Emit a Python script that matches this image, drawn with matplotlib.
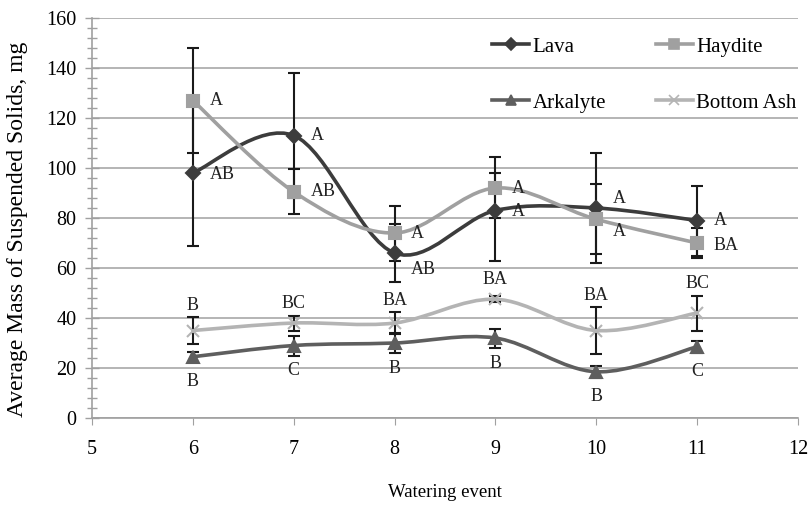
import numpy as np
import matplotlib
matplotlib.use("Agg")
import matplotlib.pyplot as plt
from matplotlib.path import Path
from matplotlib.patches import PathPatch
from matplotlib.ticker import MultipleLocator

plt.rcParams['font.family'] = ['Liberation Serif', 'DejaVu Serif']

# Watering events
events = [6, 7, 8, 9, 10, 11]

# Mean values (mg)
lava = [98, 113, 66, 83, 84, 79]
haydite = [127, 90.5, 74, 92, 79.5, 70]
arkalyte = [24.5, 29, 30, 32, 18.5, 28.5]
bottom_ash = [35, 38, 38, 47.5, 35, 42]

# Error bars (lower, upper)
lava_err_lo = [29, 25, 11.5, 20, 22, 14]
lava_err_hi = [29, 25, 11.5, 15, 22, 14]
haydite_err_lo = [21, 9, 11, 12, 14, 6]
haydite_err_hi = [21, 9, 11, 12.5, 14, 6]
arkalyte_err = [2, 4, 4, 3.8, 2.5, 2.5]
bottom_ash_err = [5.5, 3, 4.5, 1.2, 9.5, 7]

# Significance letters
lava_sig = ['AB', 'A', 'AB', 'A', 'A', 'A']
haydite_sig = ['A', 'AB', 'A', 'A', 'A', 'BA']
arkalyte_sig = ['B', 'C', 'B', 'B', 'B', 'C']
bottom_ash_sig = ['B', 'BC', 'BA', 'BA', 'BA', 'BC']

# label offsets in points
lava_off = [(12, -1), (12, 0), (12, -12), (12, -1), (12, 7), (12, 0)]
haydite_off = [(12, 0), (12, 0), (12, 0), (12, 0), (12, -9), (12, -2)]
ash_dy = [8, 9, 8, 12, 8, 9]


def smooth_path(x, y):
    # smoothed line like Excel: Catmull-Rom as cubic Bezier pieces
    x = np.asarray(x, float)
    y = np.asarray(y, float)
    n = len(x)
    verts = [(x[0], y[0])]
    codes = [Path.MOVETO]
    for i in range(n - 1):
        p0 = (x[max(i - 1, 0)], y[max(i - 1, 0)])
        p1 = (x[i], y[i])
        p2 = (x[i + 1], y[i + 1])
        p3 = (x[min(i + 2, n - 1)], y[min(i + 2, n - 1)])
        c1 = (p1[0] + (p2[0] - p0[0]) / 6, p1[1] + (p2[1] - p0[1]) / 6)
        c2 = (p2[0] - (p3[0] - p1[0]) / 6, p2[1] - (p3[1] - p1[1]) / 6)
        verts += [c1, c2, p2]
        codes += [Path.CURVE4] * 3
    return Path(verts, codes)


fig = plt.figure(figsize=(8.09, 5.07), dpi=100)
ax = fig.add_axes([0.1137, 0.1755, 0.8726, 0.789])

series = [
    ('Lava', lava, lava_err_lo, lava_err_hi, '#3c3c3c', 'D', 7),
    ('Haydite', haydite, haydite_err_lo, haydite_err_hi, '#a0a0a0', 's', 9),
    ('Arkalyte', arkalyte, arkalyte_err, arkalyte_err, '#5e5e5e', '^', 8.5),
    ('Bottom Ash', bottom_ash, bottom_ash_err, bottom_ash_err, '#b4b4b4', 'x', 9),
]

handles = {}
for name, vals, elo, ehi, col, mk, ms in series:
    ax.add_patch(PathPatch(smooth_path(events, vals), facecolor='none',
                           edgecolor=col, lw=2.6, zorder=2))
    ax.errorbar(events, vals, yerr=[elo, ehi], fmt='none', ecolor='#1a1a1a',
                elinewidth=1.5, capsize=4, capthick=1.5, zorder=3)
    ax.plot(events, vals, ls='none', marker=mk, color=col, ms=ms,
            mew=1.5, zorder=4)
    h, = ax.plot([], [], color=col, lw=2.6, marker=mk, ms=ms * 0.85, mew=1.2)
    handles[name] = h

txt = dict(fontsize=13, color='#222222')
for xv, yv, s, off in zip(events, lava, lava_sig, lava_off):
    ax.annotate(s, (xv, yv), xytext=off, textcoords='offset points',
                ha='left', va='center', **txt)
for xv, yv, s, off in zip(events, haydite, haydite_sig, haydite_off):
    ax.annotate(s, (xv, yv), xytext=off, textcoords='offset points',
                ha='left', va='center', **txt)
for xv, yv, e, s, dy in zip(events, bottom_ash, bottom_ash_err, bottom_ash_sig, ash_dy):
    ax.annotate(s, (xv, yv + e), xytext=(0, dy), textcoords='offset points',
                ha='center', va='center', **txt)
for xv, yv, s in zip(events, arkalyte, arkalyte_sig):
    ax.annotate(s, (xv, yv), xytext=(0, -18), textcoords='offset points',
                ha='center', va='center', **txt)

ax.set_xlim(5, 12)
ax.set_ylim(0, 160)
ax.xaxis.set_major_locator(MultipleLocator(1))
ax.yaxis.set_major_locator(MultipleLocator(20))
ax.yaxis.set_minor_locator(MultipleLocator(4))
ax.grid(axis='y', color='#a8a8a8', lw=1.2)
ax.set_axisbelow(True)
for sp in ['top', 'right']:
    ax.spines[sp].set_visible(False)
for sp in ['left', 'bottom']:
    ax.spines[sp].set_color('#a0a0a0')
    ax.spines[sp].set_linewidth(1.2)
ax.tick_params(axis='y', which='both', direction='inout', color='#a0a0a0',
               labelsize=14.5, length=10, width=1, pad=6)
ax.tick_params(axis='y', which='minor', length=7)
ax.tick_params(axis='x', direction='out', color='#a0a0a0', labelsize=14.5,
               length=5, pad=11)

ax.set_xlabel('Watering event', fontsize=13.5)
ax.set_ylabel('Average Mass of Suspended Solids, mg', fontsize=17)
ax.xaxis.set_label_coords(0.5, -0.165)
ax.yaxis.set_label_coords(-0.09, 0.4725)

order = ['Lava', 'Arkalyte', 'Haydite', 'Bottom Ash']
ax.legend([handles[k] for k in order], order, ncol=2, loc='upper left',
          bbox_to_anchor=(0.567, 0.9525), borderaxespad=0, borderpad=0,
          frameon=False, fontsize=15, handlelength=1.78, handletextpad=0.15,
          columnspacing=2.4, labelspacing=1.75)

fig.savefig('out.png', dpi=100, facecolor='white')
